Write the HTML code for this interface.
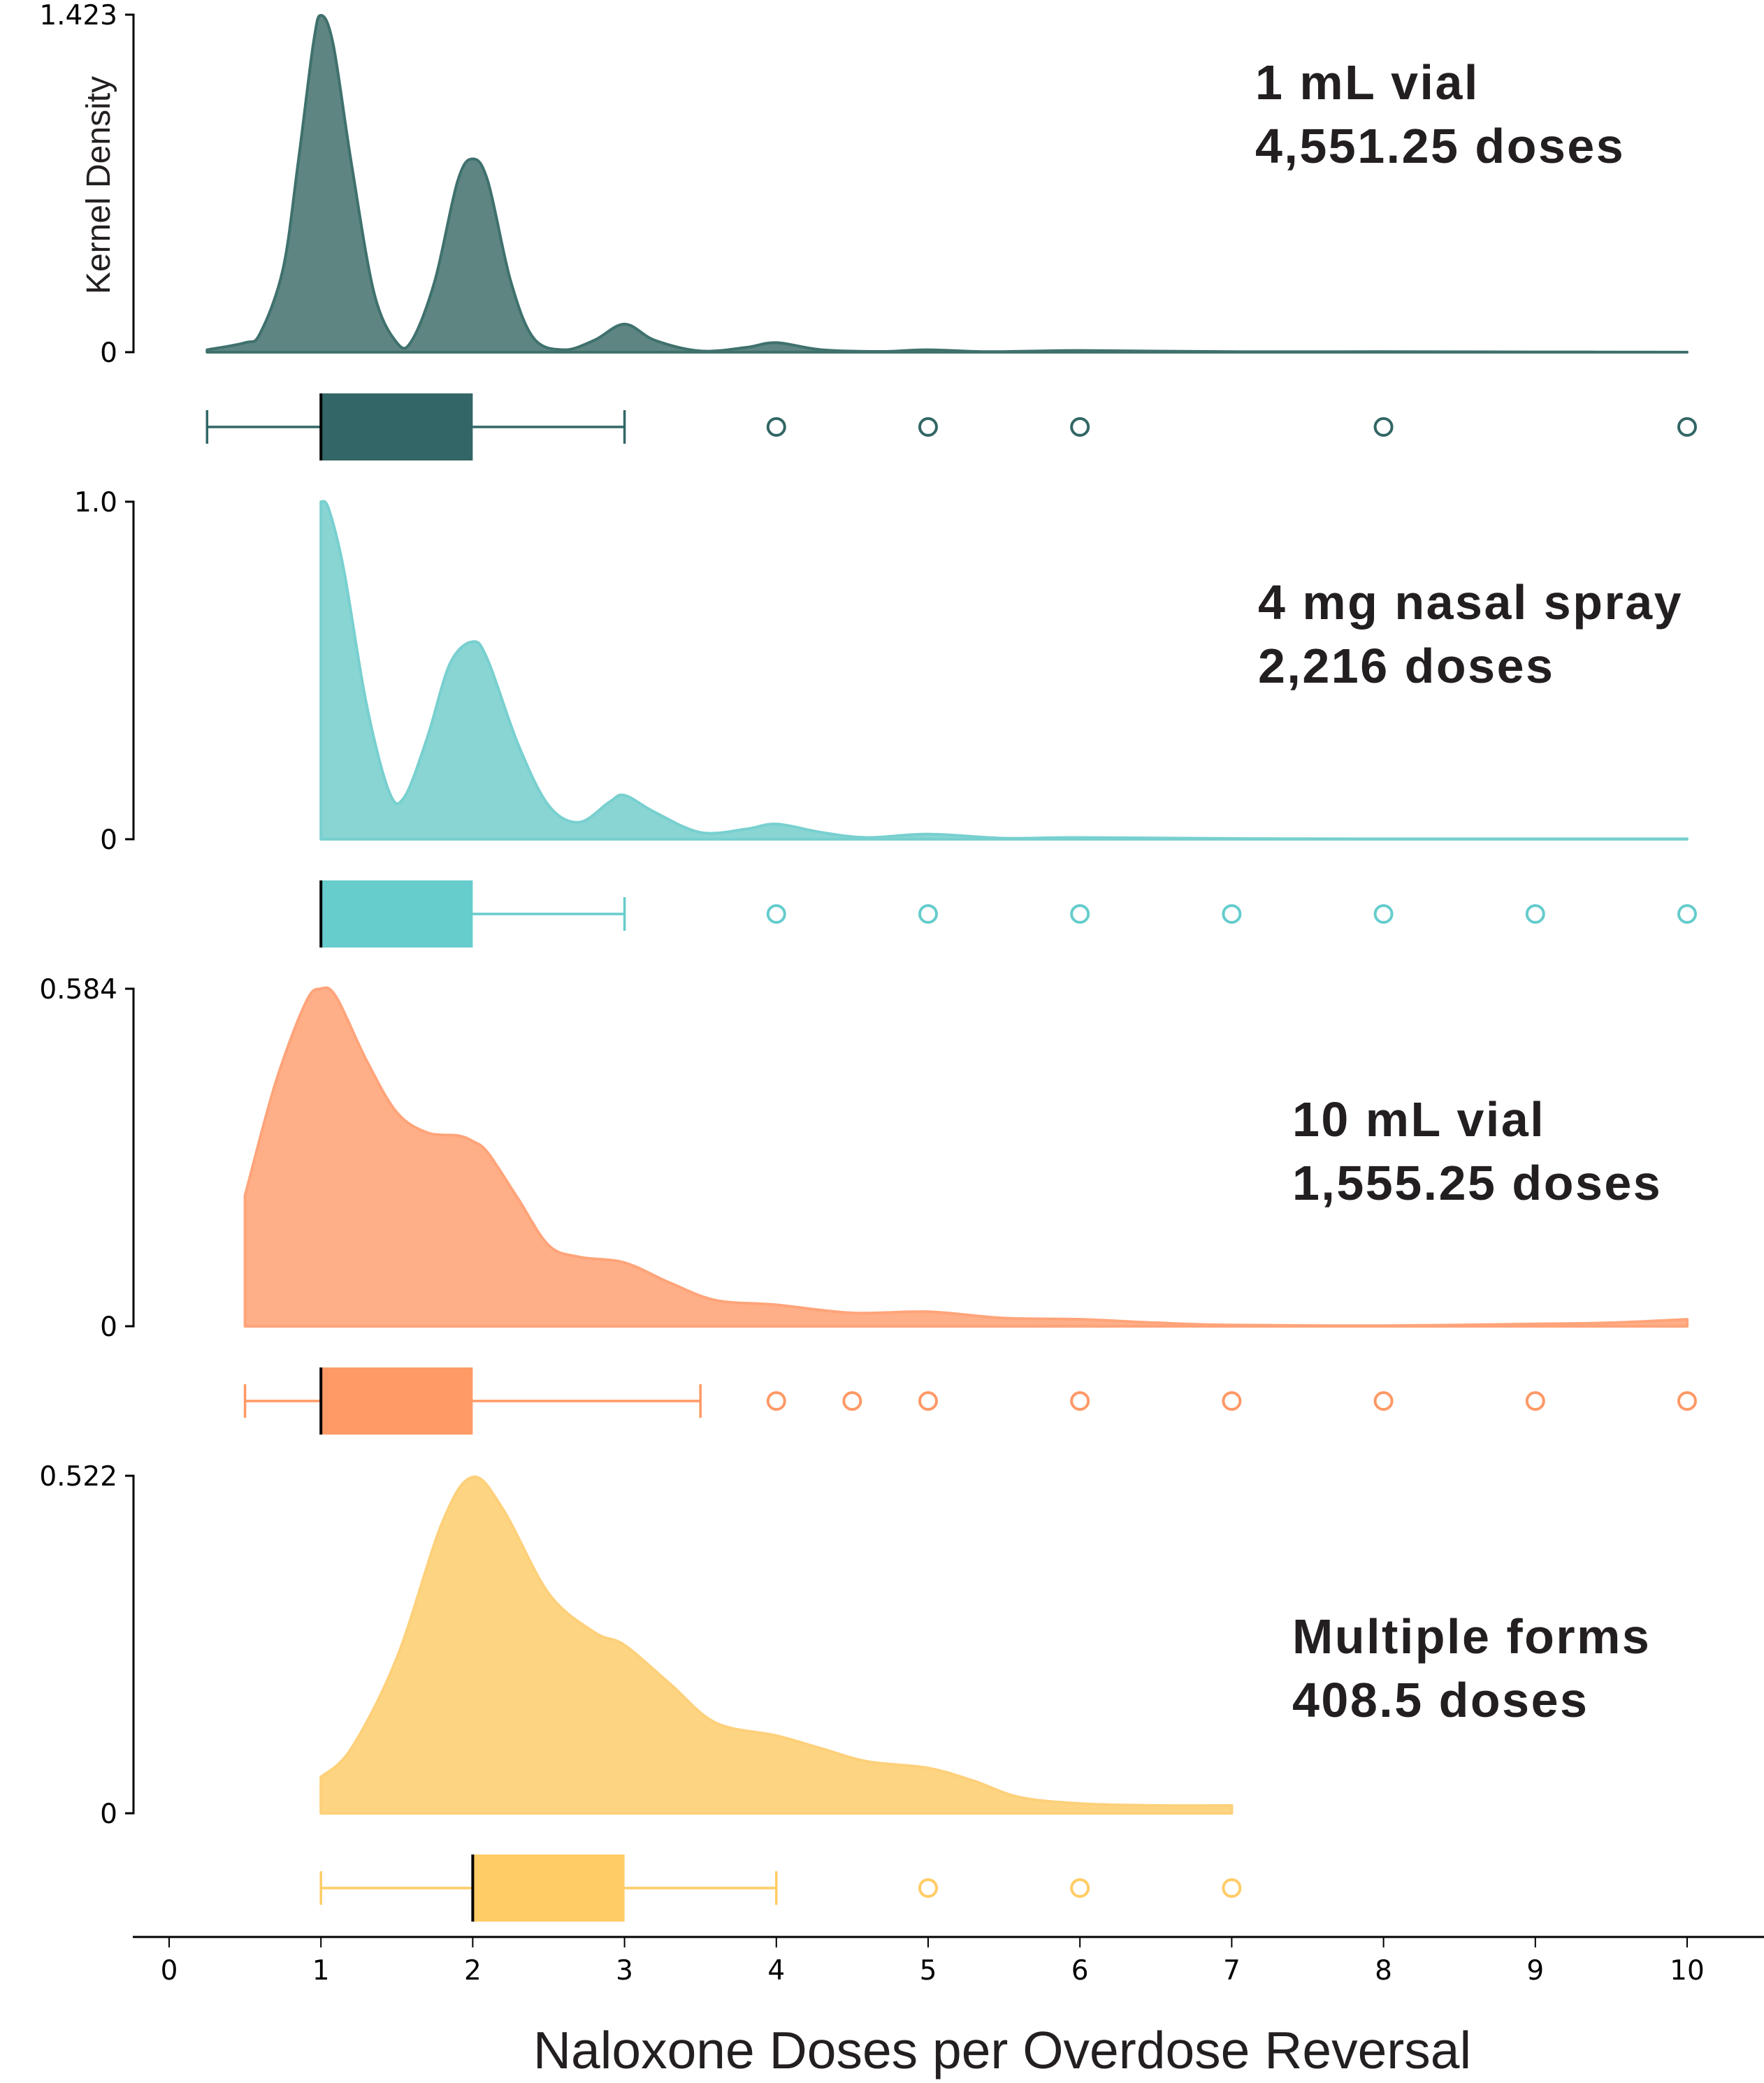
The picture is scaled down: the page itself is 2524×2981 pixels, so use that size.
<!DOCTYPE html>
<html><head><meta charset="utf-8"><style>
html,body{margin:0;padding:0;background:#fff;}
svg{display:block;}
</style></head><body>
<svg id="chart" width="2524" height="2981" viewBox="0 0 2524 2981" xmlns="http://www.w3.org/2000/svg">
<g id="layer"></g>
</svg>
<script>
// ---- data ----
const panelNames = ["1 mL vial", "4 mg nasal spray", "10 mL vial", "Multiple forms"];
const doseLabels = ["4,551.25 doses", "2,216 doses", "1,555.25 doses", "408.5 doses"];
const yMaxValues = [1.423, 1.0, 0.584, 0.522];
const yMaxLabels = ["1.423", "1.0", "0.584", "0.522"];
const xTicks = [0,1,2,3,4,5,6,7,8,9,10];

const dens1X = [0.25,0.5,0.6,0.75,0.85,0.95,1.0,1.08,1.2,1.35,1.5,1.6,1.75,1.9,2.0,2.1,2.25,2.4,2.6,2.8,3.0,3.2,3.5,3.8,4.0,4.3,4.7,5.0,5.4,6.0,7,8,9,10];
const dens1Y = [0.01,0.04,0.08,0.35,0.8,1.3,1.42,1.3,0.8,0.25,0.04,0.05,0.3,0.72,0.815,0.72,0.3,0.06,0.01,0.05,0.118,0.05,0.005,0.02,0.04,0.01,0.003,0.01,0.002,0.007,0.002,0.002,0.001,0.0];
const dens2X = [1.0,1.05,1.15,1.3,1.45,1.55,1.7,1.85,2.0,2.1,2.3,2.5,2.7,2.9,3.0,3.2,3.5,3.8,4.0,4.3,4.6,5.0,5.5,6.0,7,8,10];
const dens2Y = [1.0,0.98,0.8,0.4,0.14,0.125,0.3,0.52,0.585,0.53,0.28,0.1,0.05,0.11,0.13,0.08,0.02,0.03,0.045,0.02,0.005,0.015,0.003,0.005,0.002,0.001,0.001];
const dens3X = [0.5,0.7,0.9,1.0,1.1,1.3,1.5,1.7,1.9,2.0,2.1,2.3,2.5,2.7,3.0,3.3,3.6,4.0,4.5,5.0,5.5,6.0,6.5,7.0,8,9,9.5,10];
const dens3Y = [0.226,0.42,0.56,0.584,0.57,0.46,0.37,0.335,0.33,0.32,0.3,0.22,0.14,0.12,0.11,0.075,0.045,0.037,0.023,0.025,0.014,0.012,0.006,0.002,0.001,0.004,0.006,0.012];
const dens4X = [1.0,1.2,1.5,1.8,2.0,2.2,2.5,2.8,3.0,3.3,3.6,4.0,4.3,4.6,5.0,5.3,5.6,6.0,6.5,7.0];
const dens4Y = [0.056,0.1,0.24,0.45,0.52,0.47,0.34,0.28,0.26,0.2,0.14,0.12,0.1,0.08,0.07,0.05,0.025,0.015,0.012,0.012];

const whiskerLow = [0.25, 1, 0.5, 1];
const q1 = [1, 1, 1, 2];
const medians = [1, 1, 1, 2];
const q3 = [2, 2, 2, 3];
const whiskerHigh = [3, 3, 3.5, 4];
const outliers1 = [4,5,6,8,10];
const outliers2 = [4,5,6,7,8,9,10];
const outliers3 = [4,4.5,5,6,7,8,9,10];
const outliers4 = [5,6,7];

const densX = [dens1X, dens2X, dens3X, dens4X];
const densY = [dens1Y, dens2Y, dens3Y, dens4Y];
const outliers = [outliers1, outliers2, outliers3, outliers4];

// ---- style ----
const fills = ["#5e8581","#88d5d4","#ffaf88","#fdd582"];
const strokes = ["#3f716d","#78d0cf","#ffa47a","#fdd07a"];
const boxCols = ["#336666","#66cccc","#ff9966","#ffcc66"];
const panelTop = [21, 718, 1415, 2112];
const panelH = 483;
const boxCY = [611, 1308, 2005, 2702];
const labelX = [1796, 1800, 1849, 1849];
const labelY = [142, 886, 1626, 2366];

const X0 = 242, UNIT = 217.2;
function xs(v){ return X0 + v*UNIT; }
function ys(p, v){ return panelTop[p] + panelH - v/yMaxValues[p]*panelH; }

const NS = "http://www.w3.org/2000/svg";
const layer = document.getElementById('layer');
function mk(tag, attrs, parent){
  const e = document.createElementNS(NS, tag);
  for (const k in attrs) e.setAttribute(k, attrs[k]);
  (parent||layer).appendChild(e);
  return e;
}
function smoothPath(pts){
  let d = "";
  for (let i=0;i<pts.length-1;i++){
    const p0 = pts[Math.max(0,i-1)], p1 = pts[i], p2 = pts[i+1], p3 = pts[Math.min(pts.length-1,i+2)];
    const c1x = p1[0] + (p2[0]-p0[0])/6, c1y = p1[1] + (p2[1]-p0[1])/6;
    const c2x = p2[0] - (p3[0]-p1[0])/6, c2y = p2[1] - (p3[1]-p1[1])/6;
    d += " C"+c1x.toFixed(1)+","+c1y.toFixed(1)+" "+c2x.toFixed(1)+","+c2y.toFixed(1)+" "+p2[0].toFixed(1)+","+p2[1].toFixed(1);
  }
  return d;
}

for (let p=0;p<4;p++){
  const g = mk('g', {});
  
  
  const zeroY = ys(p,0), topY = ys(p,yMaxValues[p]);
  const ax = mk('path', {d:"M179,"+topY+" H191 V"+zeroY+" H179", fill:"none", stroke:"#000", "stroke-width":3}, g);
  
  
  const tTop = mk('text', {x:168, y:topY+14, "text-anchor":"end", "font-family":"DejaVu Sans, sans-serif", "font-size":39, fill:"#000"}, g);
  tTop.textContent = yMaxLabels[p];
  
  
  const tZero = mk('text', {x:168, y:zeroY+14, "text-anchor":"end", "font-family":"DejaVu Sans, sans-serif", "font-size":39, fill:"#000"}, g);
  tZero.textContent = "0";
  
  

  const pts = densX[p].map((x,i)=>[xs(x), ys(p, densY[p][i])]);
  let d = "M"+pts[0][0].toFixed(1)+","+zeroY.toFixed(1)+" L"+pts[0][0].toFixed(1)+","+pts[0][1].toFixed(1) + smoothPath(pts) + " L"+pts[pts.length-1][0].toFixed(1)+","+zeroY.toFixed(1)+" Z";
  const area = mk('path', {d:d, fill:fills[p], stroke:strokes[p], "stroke-width":4, "stroke-linejoin":"round"}, g);
  
  

  const cy = boxCY[p], col = boxCols[p];
  const wl = mk('line', {x1:xs(whiskerLow[p]), x2:xs(q1[p]), y1:cy, y2:cy, stroke:col, "stroke-width":3.5}, g);
  
  
  const wh = mk('line', {x1:xs(q3[p]), x2:xs(whiskerHigh[p]), y1:cy, y2:cy, stroke:col, "stroke-width":3.5}, g);
  
  
  if (whiskerLow[p] < q1[p]) {
    const c1 = mk('line', {x1:xs(whiskerLow[p]), x2:xs(whiskerLow[p]), y1:cy-24, y2:cy+24, stroke:col, "stroke-width":3.5}, g);
    
    
  }
  const c2 = mk('line', {x1:xs(whiskerHigh[p]), x2:xs(whiskerHigh[p]), y1:cy-24, y2:cy+24, stroke:col, "stroke-width":3.5}, g);
  
  
  const box = mk('rect', {x:xs(q1[p]), y:cy-48, width:xs(q3[p])-xs(q1[p]), height:96, fill:col}, g);
  
  
  const med = mk('line', {x1:xs(medians[p]), x2:xs(medians[p]), y1:cy-48, y2:cy+48, stroke:"#000", "stroke-width":4}, g);
  
  
  outliers[p].forEach(v=>{
    const c = mk('circle', {cx:xs(v), cy:cy, r:12, fill:"none", stroke:col, "stroke-width":4}, g);
    
    
  });

  const t1 = mk('text', {x:labelX[p], y:labelY[p], "font-family":"Liberation Sans, sans-serif", "font-weight":"bold", "font-size":70, "letter-spacing":2.5, fill:"#231f20"}, g);
  t1.textContent = panelNames[p];
  
  
  const t2 = mk('text', {x:labelX[p], y:labelY[p]+91, "font-family":"Liberation Sans, sans-serif", "font-weight":"bold", "font-size":70, "letter-spacing":2.5, fill:"#231f20"}, g);
  t2.textContent = doseLabels[p];
  
  
}

const yt = mk('text', {x:0, y:0, transform:"translate(157,265) rotate(-90)", "text-anchor":"middle", "font-family":"Liberation Sans, sans-serif", "font-size":48, fill:"#231f20"});
yt.textContent = "Kernel Density";



const xa = mk('line', {x1:190, x2:2524, y1:2772, y2:2772, stroke:"#000", "stroke-width":3});


xTicks.forEach(v=>{
  const tk = mk('line', {x1:xs(v), x2:xs(v), y1:2772, y2:2787, stroke:"#000", "stroke-width":2});
  
  
  const tl = mk('text', {x:xs(v), y:2833, "text-anchor":"middle", "font-family":"DejaVu Sans, sans-serif", "font-size":39, fill:"#000"});
  tl.textContent = String(v);
  
  
});
const xt = mk('text', {x:1434, y:2960, "text-anchor":"middle", "font-family":"Liberation Sans, sans-serif", "font-size":75, fill:"#231f20"});
xt.textContent = "Naloxone Doses per Overdose Reversal";


</script>
</body></html>
